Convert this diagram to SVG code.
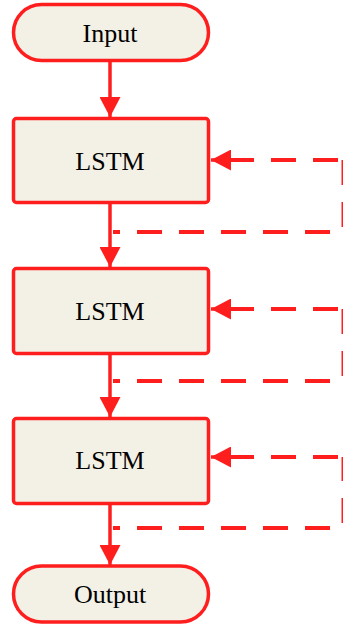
<svg xmlns="http://www.w3.org/2000/svg" width="343" height="630" viewBox="0 0 343 630">
  <style>
    .node { fill: #F3F0E5; stroke: #FF1E1E; stroke-width: 3.5; }
    .label { font-family: "Liberation Serif", "Times New Roman", serif; font-size: 26px; fill: #000; text-anchor: middle; }
    .flow { fill: none; stroke: #FF1E1E; stroke-width: 3.5; }
    .loop { fill: none; stroke: #FF1E1E; stroke-width: 4; stroke-dasharray: 25 17; }
  </style>
  <defs>
    <marker id="head" viewBox="0 0 20 21" refX="20" refY="10.5" markerWidth="20" markerHeight="21" markerUnits="userSpaceOnUse" orient="auto">
      <path d="M0,0 L20,10.5 L0,21 Z" fill="#FF1E1E"/>
    </marker>
  </defs>

  <!-- connectors -->
  <g id="connectors">
    <!-- main vertical flow -->
    <path class="flow" d="M110,62 V117" marker-end="url(#head)"/>
    <path class="flow" d="M110,204 V267" marker-end="url(#head)"/>
    <path class="flow" d="M110,354 V417" marker-end="url(#head)"/>
    <path class="flow" d="M110,504 V565" marker-end="url(#head)"/>

    <!-- recurrent loop, first cell -->
    <path class="loop" d="M113,232 H330" stroke-dashoffset="18"/>
    <path class="loop" d="M343.5,227 V160"/>
    <path class="loop" d="M338,160 H230"/>
    <path class="flow" d="M232,160 H211" marker-end="url(#head)"/>

    <!-- recurrent loop, second cell -->
    <path class="loop" d="M113,381 H330" stroke-dashoffset="18"/>
    <path class="loop" d="M343.5,376 V309"/>
    <path class="loop" d="M338,309 H230"/>
    <path class="flow" d="M232,309 H211" marker-end="url(#head)"/>

    <!-- recurrent loop, third cell -->
    <path class="loop" d="M113,528 H330" stroke-dashoffset="18"/>
    <path class="loop" d="M343.5,523 V457"/>
    <path class="loop" d="M338,457 H230"/>
    <path class="flow" d="M232,457 H211" marker-end="url(#head)"/>
  </g>

  <g id="input">
    <rect class="node" x="13.5" y="4.5" width="195" height="56" rx="28"/>
    <text class="label" x="110" y="42">Input</text>
  </g>

  <g id="lstm1">
    <rect class="node" x="13.5" y="118.5" width="195" height="84" rx="3"/>
    <text class="label" x="110" y="170">LSTM</text>
  </g>

  <g id="lstm2">
    <rect class="node" x="13.5" y="268.5" width="195" height="85" rx="3"/>
    <text class="label" x="110" y="320">LSTM</text>
  </g>

  <g id="lstm3">
    <rect class="node" x="13.5" y="418.5" width="195" height="85" rx="3"/>
    <text class="label" x="110" y="469">LSTM</text>
  </g>

  <g id="output">
    <rect class="node" x="13.5" y="566" width="195" height="56" rx="28"/>
    <text class="label" x="110" y="603">Output</text>
  </g>
</svg>
